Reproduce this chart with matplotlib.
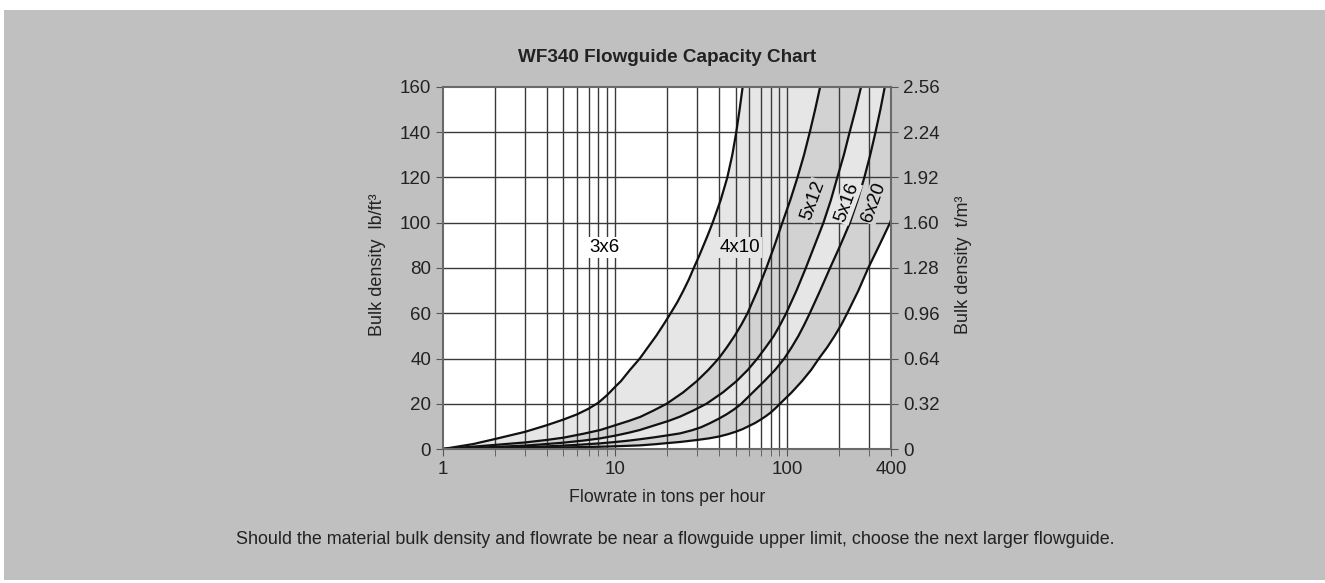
import numpy as np
import matplotlib
matplotlib.use('Agg')
import matplotlib.pyplot as plt
from matplotlib.patches import Rectangle

plt.rcParams['font.family'] = ['Liberation Sans', 'DejaVu Sans']

# upper limit curves: flowrate (t/h) vs bulk density (lb/ft3)
x_3x6 = [1, 1.5, 2, 3, 4, 5, 6, 7, 8, 9, 10, 10.8, 12.2, 13.9, 15.5, 17.3, 19.1, 21,
         23, 24.9, 26.8, 28.6, 30.6, 32.6, 34.7, 36.8, 41, 44.8, 47.9, 50.5, 52.8, 55]
y_3x6 = [0, 2.2, 4.4, 7.6, 10.5, 13, 15.3, 17.8, 20.5, 23.9, 27.5, 30, 35, 40, 45, 50, 55, 60,
         65, 70, 75, 80, 85, 90, 95, 100, 110, 120, 130, 140, 150, 160]

x_4x10 = [1, 2, 3, 4, 5, 6.5, 8.2, 10, 12, 14, 16.7, 19.9, 24.8, 29.8, 34.8, 39.9, 44.6,
          49.4, 54.1, 58.7, 67, 75.5, 84.3, 93.5, 104, 114.5, 125, 135, 145, 155]
y_4x10 = [0, 1.8, 2.9, 4, 5, 6.7, 8.4, 10.5, 12.4, 14.2, 17, 20, 25, 30, 35, 40, 45,
          50, 55, 60, 70, 80, 90, 100, 110, 120, 130, 140, 150, 160]

x_5x12 = [1, 2, 3, 4, 5, 6.5, 8.2, 10, 12, 13.9, 17, 20.4, 23.8, 28.4, 33.9, 42.2, 50.7, 59,
          67, 75, 83.5, 91, 98.5, 113, 128, 144, 162, 179, 195, 213, 230, 249, 268]
y_5x12 = [0, 0.9, 1.5, 2.2, 2.8, 3.7, 4.7, 5.9, 7.2, 8.4, 10.5, 12.4, 14.3, 17, 20, 25, 30, 35,
          40, 45, 50, 55, 60, 70, 80, 90, 100, 110, 120, 130, 140, 150, 160]

x_5x16 = [1, 2, 3, 4, 5, 6.5, 8.2, 10, 12, 13.9, 17, 20, 23.8, 28, 31.5, 35.5, 40, 44.5, 49,
          53.5, 63, 73.5, 85, 96, 106, 116, 125.5, 135, 155, 177, 203, 231, 256, 280, 303,
          325, 347, 368]
y_5x16 = [0, 0.5, 0.8, 1.15, 1.5, 2.0, 2.5, 3.1, 3.7, 4.3, 5.2, 6.0, 6.9, 8.3, 9.6, 11.4, 13.4,
          15.4, 17.5, 19.7, 25, 30, 35, 40, 45, 50, 55, 60, 70, 80, 90, 100, 110, 120, 130,
          140, 150, 160]

x_6x20 = [1, 2, 3, 4, 5, 6.5, 8.2, 10, 13.9, 17, 20, 23.8, 30, 35, 40, 45, 50, 55, 60, 65,
          70, 75, 80, 85, 90.6, 105.9, 121.6, 137.6, 152.6, 170.6, 188.3, 206, 222.8, 258.5,
          295, 342, 395, 400]
y_6x20 = [0, 0.25, 0.45, 0.6, 0.7, 0.85, 1.0, 1.2, 1.6, 2.1, 2.6, 3.1, 4.0, 4.7, 5.5, 6.5,
          7.6, 8.8, 10.2, 11.5, 13.0, 14.5, 16.1, 17.9, 20, 25, 30, 35, 40, 45, 50, 55, 60,
          70, 80, 90, 100, 101.2]

xticks = [1, 10, 100, 400]
yticks_lb = [0, 20, 40, 60, 80, 100, 120, 140, 160]
yticks_t = ['0', '0.32', '0.64', '0.96', '1.28', '1.60', '1.92', '2.24', '2.56']

XMIN, XMAX, YMAX = 1, 400, 160

fig = plt.figure(figsize=(13.25, 5.83), dpi=100, facecolor='white')
fig.patches.append(Rectangle((4 / 1325, 3 / 583), 1, (583 - 13) / 583,
                             transform=fig.transFigure, facecolor='#c0c0c0',
                             edgecolor='none', zorder=-10))

ax = fig.add_axes([443 / 1325, 1 - 449 / 583, 448 / 1325, 362 / 583])
ax.set_facecolor('white')
ax.set_xscale('log')
ax.set_xlim(XMIN, XMAX)
ax.set_ylim(0, YMAX)

curves = [(x_3x6, y_3x6), (x_4x10, y_4x10), (x_5x12, y_5x12),
          (x_5x16, y_5x16), (x_6x20, y_6x20)]
band_colors = ['#e6e6e6', '#d2d2d2', '#e6e6e6', '#d2d2d2']

# shaded bands between neighbouring limits
for i in range(4):
    xa, ya = curves[i]
    xb, yb = curves[i + 1]
    px = list(xa) + ([XMAX] if i == 3 else []) + list(xb)[::-1]
    py = list(ya) + ([YMAX] if i == 3 else []) + list(yb)[::-1]
    ax.fill(px, py, color=band_colors[i], lw=0, zorder=1)

minor = [2, 3, 4, 5, 6, 7, 8, 9, 20, 30, 40, 50, 60, 70, 80, 90, 200, 300]
ax.set_xticks(xticks)
ax.set_xticklabels([str(t) for t in xticks])
ax.set_xticks(minor, minor=True)
ax.set_xticklabels([], minor=True)
ax.set_yticks(yticks_lb)

for xv in [10, 100] + minor:
    ax.axvline(xv, color='#3a3a3a', lw=1.0, zorder=2)
for yv in yticks_lb[1:-1]:
    ax.axhline(yv, color='#3a3a3a', lw=1.0, zorder=2)

for xs, ys in curves:
    ax.plot(xs, ys, color='#111111', lw=1.6, zorder=4, solid_joinstyle='round')

# size labels
ax.text(8.7, 89, '3x6', fontsize=13.5, ha='center', va='center', zorder=5,
        bbox=dict(facecolor='white', edgecolor='none', pad=1.5))
ax.text(53, 89, '4x10', fontsize=13.5, ha='center', va='center', zorder=5,
        bbox=dict(facecolor='#e6e6e6', edgecolor='none', pad=1.5))
ax.text(141, 110, '5x12', fontsize=13.5, ha='center', va='center', rotation=70, zorder=5,
        bbox=dict(facecolor='#d2d2d2', edgecolor='none', pad=0.8))
ax.text(221, 109, '5x16', fontsize=13.5, ha='center', va='center', rotation=70, zorder=5,
        bbox=dict(facecolor='#e6e6e6', edgecolor='none', pad=0.8))
ax.text(316, 109, '6x20', fontsize=13.5, ha='center', va='center', rotation=70, zorder=5,
        bbox=dict(facecolor='#d2d2d2', edgecolor='none', pad=0.8))

for s in ax.spines.values():
    s.set_color('#6a6a6a')
    s.set_linewidth(1.5)
    s.set_zorder(6)
ax.tick_params(which='both', direction='out', length=5, color='#555555',
               labelsize=13.5, labelcolor='#222222')

ax2 = ax.twinx()
ax2.set_ylim(0, 2.56)
ax2.set_yticks([0.32 * i for i in range(9)])
ax2.set_yticklabels(yticks_t)
ax2.tick_params(direction='out', length=5, color='#555555', labelsize=13.5,
                labelcolor='#222222')
for s in ax2.spines.values():
    s.set_visible(False)

fig.text(667 / 1325, 1 - 57 / 583, 'WF340 Flowguide Capacity Chart', ha='center',
         va='center', fontsize=13.6, fontweight='bold', color='#222222')
fig.text(667 / 1325, 1 - 498 / 583, 'Flowrate in tons per hour', ha='center',
         va='center', fontsize=12.8, color='#222222')
fig.text(378 / 1325, 1 - 265 / 583, 'Bulk density  lb/ft³', ha='center',
         va='center', rotation=90, fontsize=13, color='#222222')
fig.text(963 / 1325, 1 - 265 / 583, 'Bulk density  t/m³', ha='center',
         va='center', rotation=90, fontsize=13, color='#222222')
fig.text(675 / 1325, 1 - 540 / 583,
         'Should the material bulk density and flowrate be near a flowguide upper limit, '
         'choose the next larger flowguide.', ha='center', va='center',
         fontsize=12.9, color='#222222')

fig.savefig('out.png', dpi=100, facecolor=fig.get_facecolor())
